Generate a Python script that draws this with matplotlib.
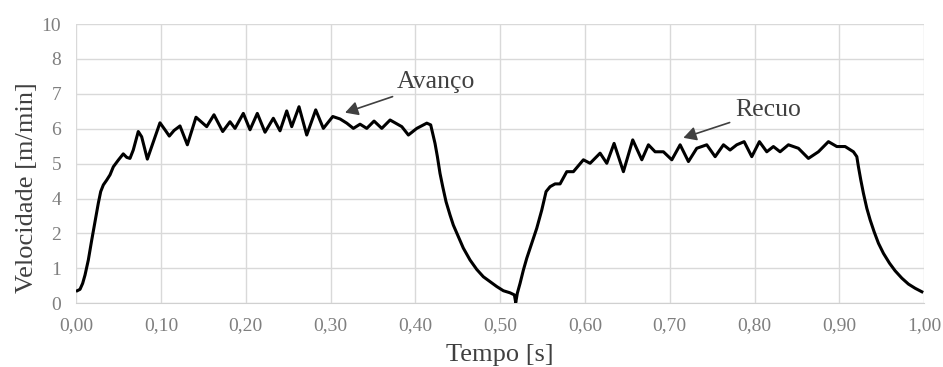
import numpy as np
import matplotlib
matplotlib.use("Agg")
import matplotlib.pyplot as plt
from matplotlib.ticker import FixedLocator, FixedFormatter

# ---- data ----
tempo = [0.0012, 0.0044, 0.0075, 0.0103, 0.0142, 0.0182, 0.0221, 0.0260, 0.0288, 0.0319,
         0.0359, 0.0398, 0.0437, 0.0495, 0.0554, 0.0595, 0.0633, 0.0672, 0.0731, 0.0771,
         0.0838, 0.0890, 0.0987, 0.1046, 0.1097, 0.1153, 0.1223, 0.1310, 0.1412, 0.1538,
         0.1624, 0.1727, 0.1813, 0.1872, 0.1970, 0.2049, 0.2135, 0.2226, 0.2324, 0.2403,
         0.2482, 0.2541, 0.2627, 0.2718, 0.2824, 0.2914, 0.3025, 0.3111, 0.3190, 0.3268,
         0.3347, 0.3426, 0.3512, 0.3603, 0.3701, 0.3839, 0.3917, 0.4016, 0.4134, 0.4180,
         0.4231, 0.4259, 0.4290, 0.4322, 0.4361, 0.4408, 0.4447, 0.4506, 0.4565, 0.4644,
         0.4723, 0.4801, 0.4880, 0.4959, 0.5037, 0.5116, 0.5167, 0.5183, 0.5202, 0.5234,
         0.5273, 0.5313, 0.5372, 0.5431, 0.5490, 0.5541, 0.5588, 0.5647, 0.5706, 0.5785,
         0.5863, 0.5981, 0.6060, 0.6178, 0.6257, 0.6343, 0.6453, 0.6563, 0.6670, 0.6748,
         0.6827, 0.6925, 0.7024, 0.7122, 0.7220, 0.7318, 0.7436, 0.7535, 0.7633, 0.7711,
         0.7790, 0.7877, 0.7967, 0.8057, 0.8144, 0.8222, 0.8301, 0.8399, 0.8517, 0.8635,
         0.8753, 0.8871, 0.8970, 0.9068, 0.9166, 0.9206, 0.9225, 0.9253, 0.9284, 0.9324,
         0.9363, 0.9410, 0.9461, 0.9520, 0.9591, 0.9658, 0.9737, 0.9815, 0.9894, 0.9973]
velocidade = [0.36, 0.40, 0.57, 0.81, 1.24, 1.81, 2.68, 3.74, 4.20, 4.39,
              4.53, 4.68, 4.91, 5.10, 5.28, 5.18, 5.15, 5.39, 5.92, 5.77,
              5.13, 5.49, 6.17, 5.97, 5.79, 5.95, 6.08, 5.54, 6.33, 6.06,
              6.40, 5.92, 6.20, 6.01, 6.44, 5.97, 6.44, 5.90, 6.30, 5.94,
              6.51, 6.06, 6.63, 5.82, 6.54, 6.01, 6.35, 6.28, 6.16, 6.01,
              6.13, 6.01, 6.22, 6.01, 6.25, 6.06, 5.82, 6.01, 6.16, 6.11,
              5.58, 5.20, 4.72, 4.34, 3.82, 3.06, 2.48, 1.91, 1.58, 1.24,
              0.97, 0.76, 0.62, 0.48, 0.36, 0.30, 0.24, 0.02, 0.29, 0.57,
              0.95, 1.29, 1.72, 2.30, 3.34, 4.20, 4.34, 4.42, 4.42, 4.77,
              4.77, 5.11, 5.01, 5.30, 5.01, 5.58, 4.77, 5.68, 5.11, 5.54,
              5.34, 5.34, 5.11, 5.54, 5.06, 5.44, 5.54, 5.20, 5.54, 5.39,
              5.54, 5.63, 5.20, 5.63, 5.34, 5.49, 5.34, 5.54, 5.44, 5.15,
              5.34, 5.63, 5.49, 5.49, 5.34, 5.20, 4.91, 4.53, 4.15, 3.44,
              2.78, 2.10, 1.72, 1.43, 1.15, 0.93, 0.72, 0.55, 0.43, 0.33]

x_ticks = [0.0, 0.1, 0.2, 0.3, 0.4, 0.5, 0.6, 0.7, 0.8, 0.9, 1.0]
x_ticklabels = ["0,00", "0,10", "0,20", "0,30", "0,40", "0,50", "0,60", "0,70", "0,80", "0,90", "1,00"]
y_ticks = [0, 1, 2, 4, 5, 6, 7, 8, 10]
y_ticklabels = ["0", "1", "2", "4", "5", "6", "7", "8", "10"]

# ---- figure ----
plt.rcParams['font.family'] = ['Liberation Serif', 'DejaVu Serif']
fig = plt.figure(figsize=(9.43, 3.67), dpi=100)
ax = fig.add_axes([0.0809, 0.1736, 0.980 - 0.0809, 0.9346 - 0.1736])

# the axis has equally spaced, non-uniform tick values
_pos = np.arange(len(y_ticks), dtype=float)
_val = np.array(y_ticks, dtype=float)
def fwd(v):
    return np.interp(v, _val, _pos)
def inv(p):
    return np.interp(p, _pos, _val)
ax.set_yscale('function', functions=(fwd, inv))

ax.plot(tempo, velocidade, color='black', lw=2.2, solid_joinstyle='round', zorder=3)

ax.set_xlim(0, 1.0)
ax.set_ylim(0, 10)
ax.xaxis.set_major_locator(FixedLocator(x_ticks))
ax.xaxis.set_major_formatter(FixedFormatter(x_ticklabels))
ax.yaxis.set_major_locator(FixedLocator(y_ticks))
ax.yaxis.set_major_formatter(FixedFormatter(y_ticklabels))
ax.yaxis.set_minor_locator(FixedLocator([]))

ax.grid(True, color='#d9d9d9', lw=1.0, zorder=0)
ax.set_axisbelow(True)
for s in ['top', 'right', 'left']:
    ax.spines[s].set_visible(False)
ax.spines['bottom'].set_color('#d0d0d0')
ax.tick_params(axis='both', length=0, labelsize=14, labelcolor='#7f7f7f')
ax.tick_params(axis='x', pad=10)
ax.tick_params(axis='y', pad=11)

ax.set_xlabel('Tempo [s]', fontsize=19, color='#404040', labelpad=7)
ax.set_ylabel('Velocidade [m/min]', fontsize=19, color='#404040')
ax.yaxis.set_label_coords(-0.0452, 0.415)

arrow = dict(arrowstyle='-|>,head_length=0.55,head_width=0.3', color='#404040', lw=1.2,
             shrinkA=2, shrinkB=0, mutation_scale=14)
ax.annotate('Avanço', xy=(0.317, 6.46), xytext=(0.378, 7.34), fontsize=18.5,
            color='#404040', va='center', ha='left', arrowprops=arrow)
ax.annotate('Recuo', xy=(0.716, 5.74), xytext=(0.777, 6.54), fontsize=18.5,
            color='#404040', va='center', ha='left', arrowprops=arrow)

fig.savefig('out.png', dpi=100)
